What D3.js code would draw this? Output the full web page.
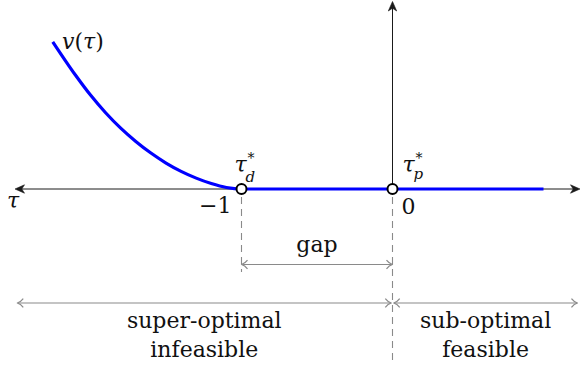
<!DOCTYPE html>
<html>
<head>
<meta charset="utf-8">
<script src="https://cdn.jsdelivr.net/npm/d3@7/dist/d3.min.js"></script>
<style>
  html, body { margin: 0; padding: 0; background: #fff; }
  svg { display: block; }
  .math { font-style: italic; }
</style>
</head>
<body>
<svg id="chart" width="581" height="368" font-family="'DejaVu Serif', 'Liberation Serif', 'Noto Serif', Tinos, 'Times New Roman', Times, serif"></svg>
<script>
// Value function v(tau): decreasing on the infeasible side, flat zero afterwards
const curveTau = [-2.25, -2.1, -2.0, -1.9, -1.8, -1.7, -1.6, -1.5, -1.4, -1.3, -1.2, -1.1, -1.0, 1.0];
const curveV   = [0.975, 0.755, 0.622, 0.505, 0.403, 0.315, 0.238, 0.172, 0.117, 0.072, 0.036, 0.01, 0, 0];

// Marked points on the tau axis: dual optimum and primal optimum
const markTau   = [-1, 0];
const markNames = ["d", "p"];

// Axis extents (in tau / v units)
const tauAxis = [-2.5, 1.245];
const vAxisTop = 1.245;

// Bottom region labels
const regionLabels = [["super-optimal", "infeasible"], ["sub-optimal", "feasible"]];
const tickLabels = ["\u22121", "0"];

const svg = d3.select("#chart");
const x = d3.scaleLinear().domain([-1, 0]).range([241.5, 392.5]);
const y = d3.scaleLinear().domain([0, 1]).range([189, 38]);

const black = "#1a1a1a", gray = "#8a8a8a", blue = "#0000ff", ink = "#111";

// filled stealth-style head pointing along +x, tip at origin
const stealth = "M0,0 L-9.5,-4.2 L-6.8,0 L-9.5,4.2 Z";
// open hook head (TikZ 'to') pointing along +x
const hook = "M-6,-4.3 C-4.2,-1.9 -2,-0.5 0,0 C-2,0.5 -4.2,1.9 -6,4.3";

function head(g, px, py, angle, kind, color) {
  g.append("path")
    .attr("d", kind === "stealth" ? stealth : hook)
    .attr("transform", `translate(${px},${py}) rotate(${angle})`)
    .attr("fill", kind === "stealth" ? color : "none")
    .attr("stroke", color)
    .attr("stroke-width", kind === "stealth" ? 0.6 : 1.2)
    .attr("stroke-linejoin", "round");
}

function label(px, py, str, size, opts = {}) {
  return svg.append("text")
    .attr("x", px).attr("y", py)
    .attr("font-size", size)
    .attr("fill", ink)
    .attr("text-anchor", opts.anchor || "start")
    .attr("font-style", opts.italic ? "italic" : "normal")
    .text(str);
}

// --- main axes ---
const axes = svg.append("g");
axes.append("line")
  .attr("x1", x(tauAxis[0]) + 3).attr("x2", x(tauAxis[1]) - 3)
  .attr("y1", y(0)).attr("y2", y(0))
  .attr("stroke", black).attr("stroke-width", 1);
head(axes, x(tauAxis[0]), y(0), 180, "stealth", black);
head(axes, x(tauAxis[1]) - 0.5, y(0), 0, "stealth", black);

axes.append("line")
  .attr("x1", x(0)).attr("x2", x(0))
  .attr("y1", y(0)).attr("y2", y(vAxisTop) + 3)
  .attr("stroke", black).attr("stroke-width", 1);
head(axes, x(0), y(vAxisTop) + 0.5, -90, "stealth", black);

// --- dashed guides below the marked points ---
const guides = svg.append("g");
guides.append("line")
  .attr("x1", x(markTau[0])).attr("x2", x(markTau[0]))
  .attr("y1", y(0) + 8).attr("y2", 272)
  .attr("stroke", gray).attr("stroke-width", 1.1).attr("stroke-dasharray", "7,5");
guides.append("line")
  .attr("x1", x(markTau[1])).attr("x2", x(markTau[1]))
  .attr("y1", y(0) + 8).attr("y2", 360)
  .attr("stroke", gray).attr("stroke-width", 1.1).attr("stroke-dasharray", "7,5");

// gap arrow
const gapY = 264.5;
const gg = svg.append("g");
gg.append("line")
  .attr("x1", x(markTau[0]) + 1).attr("x2", x(markTau[1]) - 1)
  .attr("y1", gapY).attr("y2", gapY)
  .attr("stroke", gray).attr("stroke-width", 1.2);
head(gg, x(markTau[0]), gapY, 180, "hook", gray);
head(gg, x(markTau[1]), gapY, 0, "hook", gray);
label((x(markTau[0]) + x(markTau[1])) / 2, 252, "gap", 22, { anchor: "middle" });

// region arrows
const regY = 303;
const regions = [
  [x(-2.485), x(0) - 1.2],
  [x(0) + 1.2, x(1.225)]
];
regions.forEach((r, i) => {
  const g = svg.append("g");
  g.append("line")
    .attr("x1", r[0] + 1).attr("x2", r[1] - 1)
    .attr("y1", regY).attr("y2", regY)
    .attr("stroke", gray).attr("stroke-width", 1.2);
  head(g, r[0], regY, 180, "hook", gray);
  head(g, r[1], regY, 0, "hook", gray);
  const cx = (r[0] + r[1]) / 2;
  label(cx, 328, regionLabels[i][0], 22, { anchor: "middle" });
  label(cx, 357, regionLabels[i][1], 22, { anchor: "middle" });
});

// --- value curve ---
const line = d3.line()
  .x((d, i) => x(curveTau[i]))
  .y((d, i) => y(curveV[i]))
  .curve(d3.curveMonotoneX);
svg.append("path")
  .datum(curveTau)
  .attr("d", line)
  .attr("fill", "none")
  .attr("stroke", blue)
  .attr("stroke-width", 3.2)
  .attr("stroke-linecap", "butt");

// marked points
svg.selectAll("circle.mark")
  .data(markTau)
  .join("circle")
  .attr("class", "mark")
  .attr("cx", d => x(d)).attr("cy", y(0))
  .attr("r", 5)
  .attr("fill", "#fff").attr("stroke", "#000").attr("stroke-width", 2);

// --- labels ---
// curve label v(τ)
svg.append("text").attr("x", 62).attr("y", 49).attr("font-size", 22).attr("fill", ink)
  .html('<tspan font-style="italic">v</tspan>(<tspan font-style="italic">τ</tspan>)');

// axis label τ
label(7, 208, "τ", 22, { italic: true });

// tick labels
label(x(-1) - 10, 213, tickLabels[0], 22, { anchor: "end" });
label(x(0) + 9, 214, tickLabels[1], 22);

// τ*_d and τ*_p : base symbol, subscript, and a superscript star
markTau.forEach((t, i) => {
  const bx = x(t) - 7 + (i === 1 ? 17 : 0);
  label(bx, 172, "τ", 22, { italic: true });
  label(bx + 11, i === 0 ? 182 : 179, markNames[i], 15, { italic: true });
  label(bx + 13, 163, "*", 14);
});
</script>
</body>
</html>
